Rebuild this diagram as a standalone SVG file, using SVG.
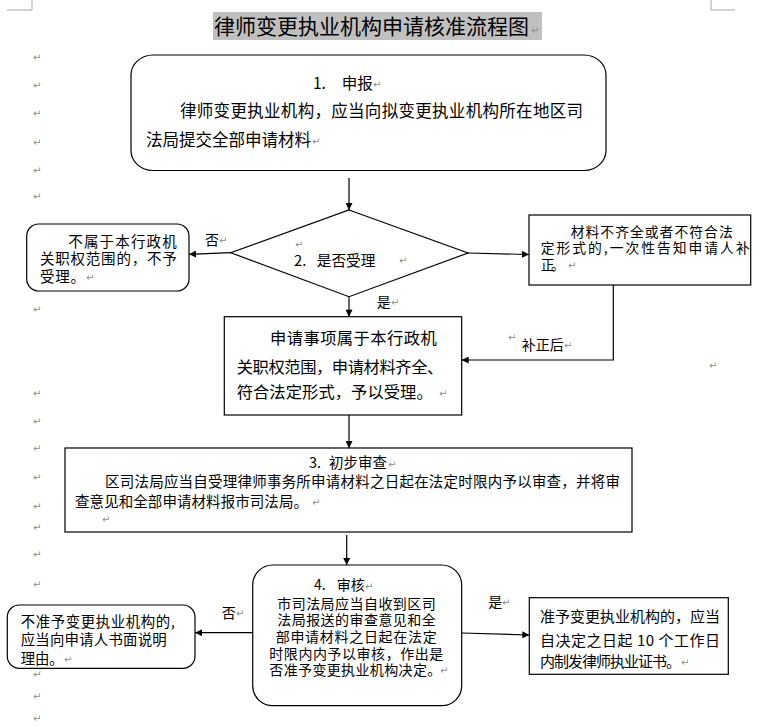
<svg xmlns="http://www.w3.org/2000/svg" width="768" height="726" viewBox="0 0 768 726">
<style>
  .box{fill:#fff;stroke:#000;stroke-width:1.2}
  .t{font-family:"Noto Sans CJK SC","Noto Sans",sans-serif;fill:#000}
  .pm{font-family:"DejaVu Sans",sans-serif;font-size:10px;fill:#8c8c8c}
  .ln{fill:none;stroke:#000;stroke-width:1.2}
  .crop{fill:none;stroke:#a8a8a8;stroke-width:1}
</style>
<defs>
  <marker id="ah" viewBox="0 0 10 10" refX="10" refY="5" markerWidth="8" markerHeight="7" markerUnits="userSpaceOnUse" orient="auto">
    <path d="M0,0 L10,5 L0,10 z" fill="#000"/>
  </marker>
</defs>
<rect width="768" height="726" fill="#fff"/>

<g id="page-marks">
  <path class="crop" d="M7,10 H32 V0 M711,0 V10 H735"/>
  <g class="pm">
    <text x="33" y="61">↵</text><text x="33" y="89">↵</text><text x="33" y="117">↵</text>
    <text x="33" y="146">↵</text><text x="33" y="174">↵</text><text x="33" y="200">↵</text>
    <text x="33" y="313">↵</text><text x="33" y="397">↵</text><text x="33" y="425">↵</text>
    <text x="33" y="452">↵</text><text x="33" y="481">↵</text><text x="33" y="510">↵</text>
    <text x="33" y="531">↵</text><text x="33" y="558">↵</text><text x="33" y="588">↵</text>
    <text x="33" y="678">↵</text><text x="33" y="700">↵</text><text x="33" y="722">↵</text>
    <text x="709" y="369">↵</text>
  </g>
</g>

<g id="title">
  <rect x="213" y="12" width="329" height="28" fill="#c0c0c0"/>
  <text class="t" x="214" y="34" font-size="21" textLength="315">律师变更执业机构申请核准流程图</text>
  <text class="pm" x="531" y="34">↵</text>
</g>

<g id="connectors">
  <line class="ln" x1="349" y1="178" x2="349" y2="210" marker-end="url(#ah)"/>
  <line class="ln" x1="230.7" y1="252.7" x2="189" y2="254.3" marker-end="url(#ah)"/>
  <line class="ln" x1="468" y1="253" x2="529" y2="254.5" marker-end="url(#ah)"/>
  <line class="ln" x1="349" y1="296.7" x2="349" y2="316.7" marker-end="url(#ah)"/>
  <polyline class="ln" points="613.3,285 613.3,360 461.7,360" marker-end="url(#ah)"/>
  <line class="ln" x1="349" y1="415" x2="349" y2="448" marker-end="url(#ah)"/>
  <line class="ln" x1="346.7" y1="535" x2="346.7" y2="565" marker-end="url(#ah)"/>
  <line class="ln" x1="252.7" y1="632.7" x2="195" y2="632.7" marker-end="url(#ah)"/>
  <line class="ln" x1="461.7" y1="633" x2="529.3" y2="635" marker-end="url(#ah)"/>
  <g id="connector-labels">
    <text class="t" x="205" y="245" font-size="14">否</text><text class="pm" x="219" y="244">↵</text>
    <text class="t" x="376.7" y="307" font-size="14">是</text><text class="pm" x="391" y="306">↵</text>
    <text class="pm" x="508" y="341">↵</text>
    <text class="t" x="521.7" y="350" font-size="14">补正后</text><text class="pm" x="564" y="349">↵</text>
    <text class="t" x="221.7" y="618" font-size="14">否</text><text class="pm" x="236" y="617">↵</text>
    <text class="t" x="488.3" y="607" font-size="14">是</text><text class="pm" x="502" y="606">↵</text>
  </g>
</g>

<g id="node-apply">
  <rect class="box" x="131" y="55" width="475" height="115.5" rx="22" ry="20"/>
  <text class="t" x="313" y="88.5" font-size="15.5">1. <tspan x="341.7">申报</tspan></text>
  <text class="pm" x="373" y="88">↵</text>
  <text class="t" x="180" y="117" font-size="16.5" textLength="403">律师变更执业机构，应当向拟变更执业机构所在地区司</text>
  <text class="t" x="146" y="146" font-size="16.5" textLength="165">法局提交全部申请材料</text>
  <text class="pm" x="312" y="145">↵</text>
</g>

<g id="node-accept-decision">
  <polygon class="box" points="349,210 468,253 349,296.7 230.7,252.7"/>
  <text class="pm" x="295" y="248">↵</text>
  <text class="t" x="294" y="265.5" font-size="14.7">2. <tspan x="316.7">是否受理</tspan></text>
  <text class="pm" x="399" y="264">↵</text>
</g>

<g id="node-reject-scope">
  <rect class="box" x="26.7" y="224" width="162.3" height="67" rx="12"/>
  <text class="t" x="68.3" y="247.3" font-size="14.5" textLength="108.4">不属于本行政机</text>
  <text class="t" x="40" y="264" font-size="14.5" textLength="136.7">关职权范围的，不予</text>
  <text class="t" x="40" y="282.3" font-size="14.5" textLength="45">受理。</text>
  <text class="pm" x="86" y="281">↵</text>
</g>

<g id="node-correction">
  <rect class="box" x="529" y="215" width="221.7" height="70"/>
  <text class="t" x="570.7" y="236.8" font-size="13.8" textLength="162">材料不齐全或者不符合法</text>
  <text class="t" x="540.7" y="253.3" font-size="13.8" textLength="209">定形式的,一次性告知申请人补</text>
  <text class="t" x="540.7" y="269.5" font-size="13.8" textLength="24">正。</text>
  <text class="pm" x="568" y="269">↵</text>
</g>

<g id="node-accepted">
  <rect class="box" x="224.3" y="316.7" width="237.4" height="98.3"/>
  <text class="t" x="270" y="344.3" font-size="16.3" textLength="166.7">申请事项属于本行政机</text>
  <text class="t" x="236.7" y="372.7" font-size="16.3" textLength="206.6">关职权范围，申请材料齐全、</text>
  <text class="t" x="236.7" y="398.3" font-size="16.3" textLength="196">符合法定形式，予以受理。</text>
  <text class="pm" x="439" y="397">↵</text>
</g>

<g id="node-preliminary-review">
  <rect class="box" x="65" y="448" width="567" height="84"/>
  <text class="t" x="309" y="468.4" font-size="14.5">3. <tspan x="329">初步审查</tspan></text>
  <text class="pm" x="388" y="468">↵</text>
  <text class="t" x="105" y="486.6" font-size="14.5" textLength="515">区司法局应当自受理律师事务所申请材料之日起在法定时限内予以审查，并将审</text>
  <text class="t" x="75" y="507.4" font-size="14.5" textLength="233">查意见和全部申请材料报市司法局。</text>
  <text class="pm" x="312" y="506">↵</text>
  <text class="pm" x="102" y="523">↵</text>
</g>

<g id="node-review">
  <rect class="box" x="252.7" y="565" width="209" height="140.7" rx="20"/>
  <text class="t" x="314" y="590.4" font-size="14">4. <tspan x="336.7">审核</tspan></text>
  <text class="pm" x="365" y="590">↵</text>
  <text class="t" x="277.3" y="608.7" font-size="14" textLength="158.4">市司法局应当自收到区司</text>
  <text class="t" x="277.3" y="625.4" font-size="14" textLength="158.4">法局报送的审查意见和全</text>
  <text class="t" x="275.7" y="642.1" font-size="14" textLength="161">部申请材料之日起在法定</text>
  <text class="t" x="269.3" y="658.7" font-size="14" textLength="174">时限内内予以审核，作出是</text>
  <text class="t" x="269.3" y="675.4" font-size="14" textLength="172">否准予变更执业机构决定。</text>
  <text class="pm" x="440" y="674">↵</text>
</g>

<g id="node-reject-change">
  <rect class="box" x="7.3" y="605" width="187.7" height="63.3" rx="12"/>
  <text class="t" x="20.7" y="627" font-size="14.4" textLength="154">不准予变更执业机构的,</text>
  <text class="t" x="20.7" y="645.4" font-size="14.4" textLength="146">应当向申请人书面说明</text>
  <text class="t" x="20.7" y="663.5" font-size="14.4" textLength="43">理由。</text>
  <text class="pm" x="64" y="663">↵</text>
</g>

<g id="node-approve-change">
  <rect class="box" x="529.3" y="597.7" width="199" height="76.6"/>
  <text class="t" x="540" y="622.2" font-size="15" textLength="180">准予变更执业机构的，应当</text>
  <text class="t" x="540" y="645.5" font-size="15" textLength="180">自决定之日起 10 个工作日</text>
  <text class="t" x="540" y="667.2" font-size="15" textLength="141">内制发律师执业证书。</text>
  <text class="pm" x="681" y="666">↵</text>
</g>
</svg>
